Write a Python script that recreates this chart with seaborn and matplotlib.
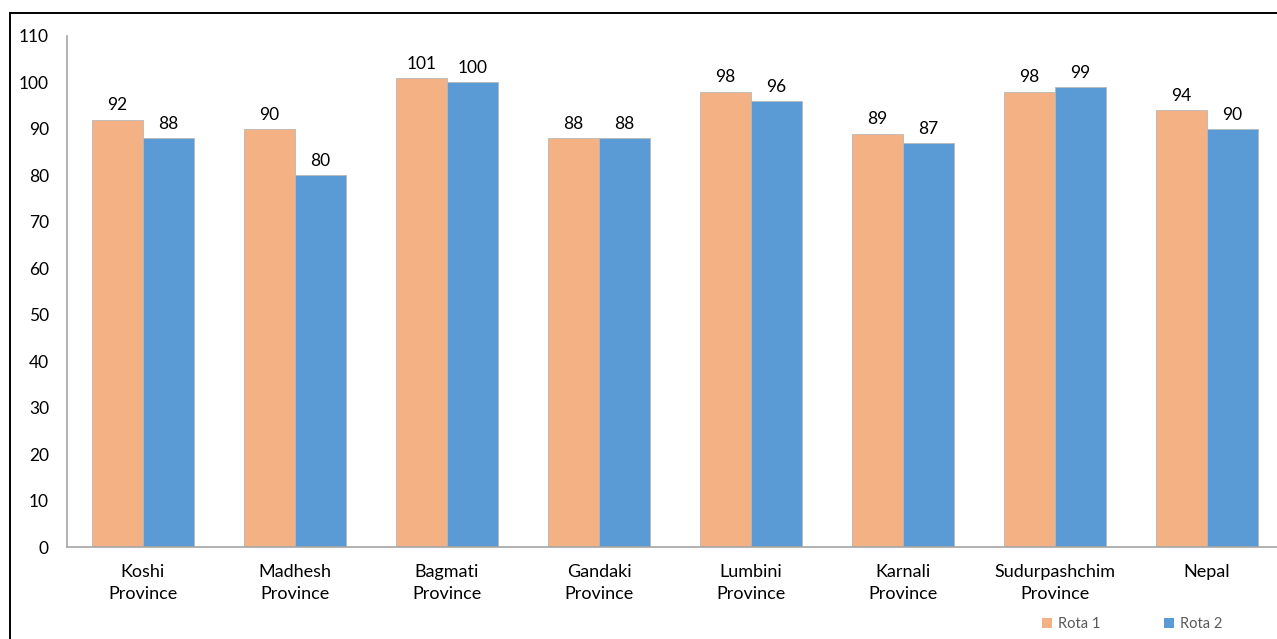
import matplotlib
matplotlib.use("Agg")
import matplotlib.pyplot as plt
from matplotlib.lines import Line2D
from matplotlib.patches import Patch
import seaborn as sns
import pandas as pd

provinces = ["Koshi\nProvince", "Madhesh\nProvince", "Bagmati\nProvince", "Gandaki\nProvince",
             "Lumbini\nProvince", "Karnali\nProvince", "Sudurpashchim\nProvince", "Nepal"]
rota1 = [92, 90, 101, 88, 98, 89, 98, 94]
rota2 = [88, 80, 100, 88, 96, 87, 99, 90]
series = ["Rota 1", "Rota 2"]
colors = ["#F4B183", "#5B9BD5"]

df = pd.DataFrame({
    "Province": provinces * 2,
    "Value": rota1 + rota2,
    "Round": [series[0]] * len(provinces) + [series[1]] * len(provinces),
})

sns.set_theme(style="white")
plt.rcParams["font.family"] = ["Lato", "DejaVu Sans"]

W, H = 1277, 639
fig = plt.figure(figsize=(W / 100, H / 100), dpi=100)
ax = fig.add_axes([67 / W, (H - 547) / H, 1216 / W, 511 / H])

sns.barplot(data=df, x="Province", y="Value", hue="Round", palette=colors,
            width=0.67, gap=0, ax=ax, edgecolor="#b8b8b8", linewidth=0.6,
            legend=False, errorbar=None, saturation=1)

ax.set_ylim(0, 110)
ax.set_xlim(-0.5, 7.5)
ax.set_yticks(range(0, 111, 10))
ax.set_xlabel("")
ax.set_ylabel("")
ax.tick_params(axis="y", length=0, pad=13, labelsize=12.5, labelcolor="#000000")
ax.tick_params(axis="x", length=0, pad=12, labelsize=13, labelcolor="#000000")
for lbl in ax.get_xticklabels():
    lbl.set_linespacing(1.45)
    lbl.set_verticalalignment("top")

for side in ["top", "right"]:
    ax.spines[side].set_visible(False)
for side in ["left", "bottom"]:
    ax.spines[side].set_color("#a6a6a6")
    ax.spines[side].set_linewidth(1.2)

for cont in ax.containers:
    ax.bar_label(cont, fmt="%d", padding=4.5, fontsize=12.5, color="#000000")

handles = [Patch(facecolor=c, edgecolor="none") for c in colors]
fig.legend(handles, series, loc="center", bbox_to_anchor=(1132 / W, 1 - 624 / H),
           ncol=2, frameon=False, fontsize=10.5, labelcolor="#595959",
           handlelength=0.7, handleheight=0.7, handletextpad=0.4, columnspacing=4.4)

# outer frame
fig.add_artist(Line2D([10 / W, 10 / W], [0, 1 - 13 / H], color="black", linewidth=1.4))
fig.add_artist(Line2D([10 / W, 1], [1 - 13 / H, 1 - 13 / H], color="black", linewidth=1.4))

fig.savefig("out.png", dpi=100)
